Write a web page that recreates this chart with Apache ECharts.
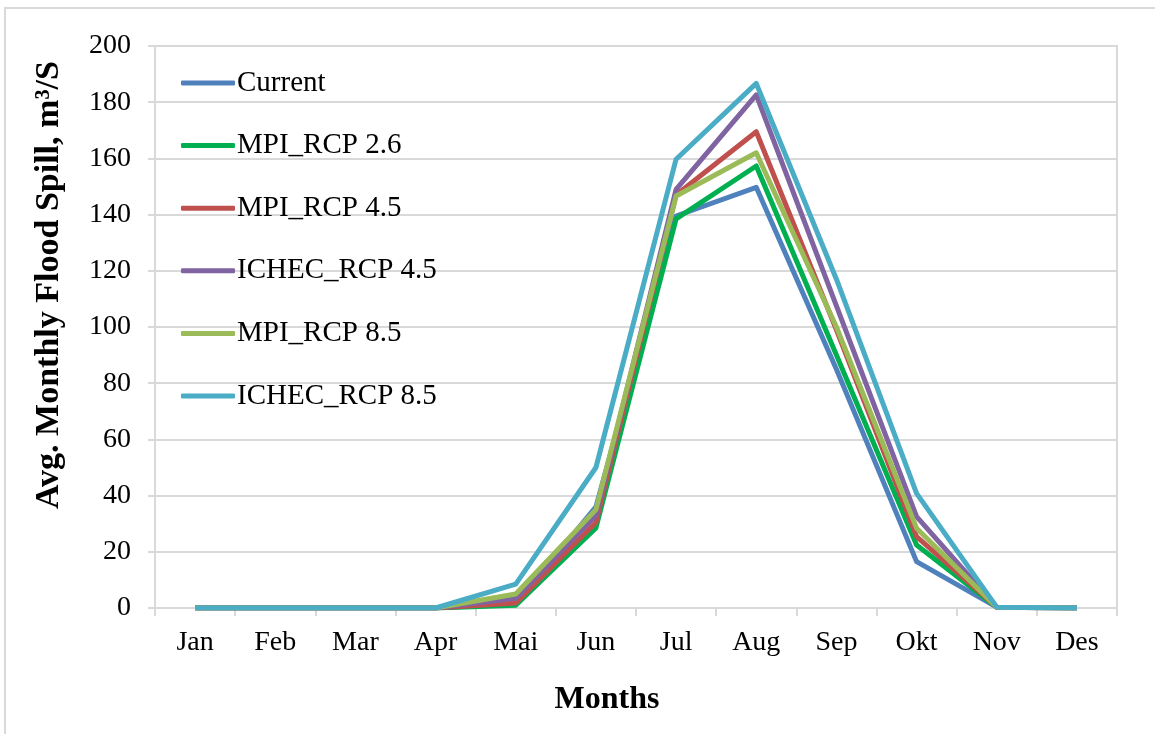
<!DOCTYPE html>
<html>
<head>
<meta charset="utf-8">
<script src="https://cdn.jsdelivr.net/npm/echarts@6/dist/echarts.min.js"></script>
<style>
  html, body { margin: 0; padding: 0; background: #fff; }
  #chart { width: 1155px; height: 734px; }
</style>
</head>
<body>
<div id="chart"></div>
<script>
const months = ['Jan', 'Feb', 'Mar', 'Apr', 'Mai', 'Jun', 'Jul', 'Aug', 'Sep', 'Okt', 'Nov', 'Des']
const seriesNames = ['Current', 'MPI_RCP 2.6', 'MPI_RCP 4.5', 'ICHEC_RCP 4.5', 'MPI_RCP 8.5', 'ICHEC_RCP 8.5']
const current = [0, 0, 0, 0, 1.5, 36, 139.5, 149.7, 85, 16.5, 0.3, 0]
const mpi26 = [0, 0, 0, 0, 1, 28.5, 138.5, 157.3, 90, 22.4, 0.3, 0]
const mpi45 = [0, 0, 0, 0, 1.8, 30.5, 147, 169.5, 99, 25.4, 0.3, 0]
const ichec45 = [0, 0, 0, 0, 3.5, 33, 149, 182.6, 107.5, 32.5, 0.3, 0]
const mpi85 = [0, 0, 0, 0, 5, 35, 146.6, 162, 100, 28.4, 0.3, 0]
const ichec85 = [0, 0, 0, 0, 8.5, 50, 159.7, 186.7, 117, 40.8, 0.3, 0]
const colors = ['#4F81BD', '#00B050', '#C0504D', '#8064A2', '#9BBB59', '#4BACC6']

const allData = [current, mpi26, mpi45, ichec45, mpi85, ichec85]
const font = 'Liberation Serif, Times New Roman, serif'

const chart = echarts.init(document.querySelector('#chart'))
const option = {
  animation: false,
  color: colors,
  textStyle: { fontFamily: font },
  grid: {
    left: 155,
    right: 38,
    top: 46,
    bottom: 126,
    show: true,
    borderColor: '#d9d9d9',
    borderWidth: 2,
  },
  graphic: [
    {
      type: 'rect',
      shape: { x: 5, y: 8, width: 1165, height: 740 },
      style: { fill: 'none', stroke: '#d9d9d9', lineWidth: 2 },
      silent: true,
    },
  ],
  legend: {
    orient: 'vertical',
    left: 176,
    top: 63,
    itemWidth: 54,
    itemHeight: 5,
    itemGap: 32.6,
    icon: 'roundRect',
    data: seriesNames,
    textStyle: { fontFamily: font, fontSize: 29, color: '#000', lineHeight: 30, padding: [0, 0, 0, -3] },
  },
  xAxis: {
    type: 'category',
    data: months,
    boundaryGap: true,
    name: 'Months',
    nameLocation: 'middle',
    nameGap: 76,
    nameTextStyle: { fontFamily: font, fontSize: 32, fontWeight: 'bold', color: '#000', padding: [0, 58, 0, 0] },
    axisLine: { lineStyle: { color: '#d9d9d9', width: 2 } },
    axisTick: { show: true, length: 8, lineStyle: { color: '#d9d9d9', width: 2 } },
    axisLabel: { fontFamily: font, fontSize: 28, color: '#000', margin: 21 },
    splitLine: { show: false },
  },
  yAxis: {
    type: 'value',
    min: 0,
    max: 200,
    interval: 20,
    name: 'Avg. Monthly Flood Spill, m³/S',
    nameLocation: 'middle',
    nameGap: 89,
    nameTextStyle: { fontFamily: font, fontSize: 34, fontWeight: 'bold', color: '#000', padding: [0, 0, 0, 84] },
    axisLine: { show: true, lineStyle: { color: '#d9d9d9', width: 2 } },
    axisTick: { show: true, length: 7, lineStyle: { color: '#d9d9d9', width: 2 } },
    axisLabel: { fontFamily: font, fontSize: 28, color: '#000', margin: 24 },
    splitLine: { lineStyle: { color: '#d9d9d9', width: 2 } },
  },
  series: seriesNames.map((name, i) => ({
    name: name,
    type: 'line',
    data: allData[i],
    showSymbol: false,
    symbol: 'none',
    lineStyle: { width: 5, color: colors[i], join: 'round' },
    z: 2 + i,
  })),
}
chart.setOption(option)
</script>
</body>
</html>
